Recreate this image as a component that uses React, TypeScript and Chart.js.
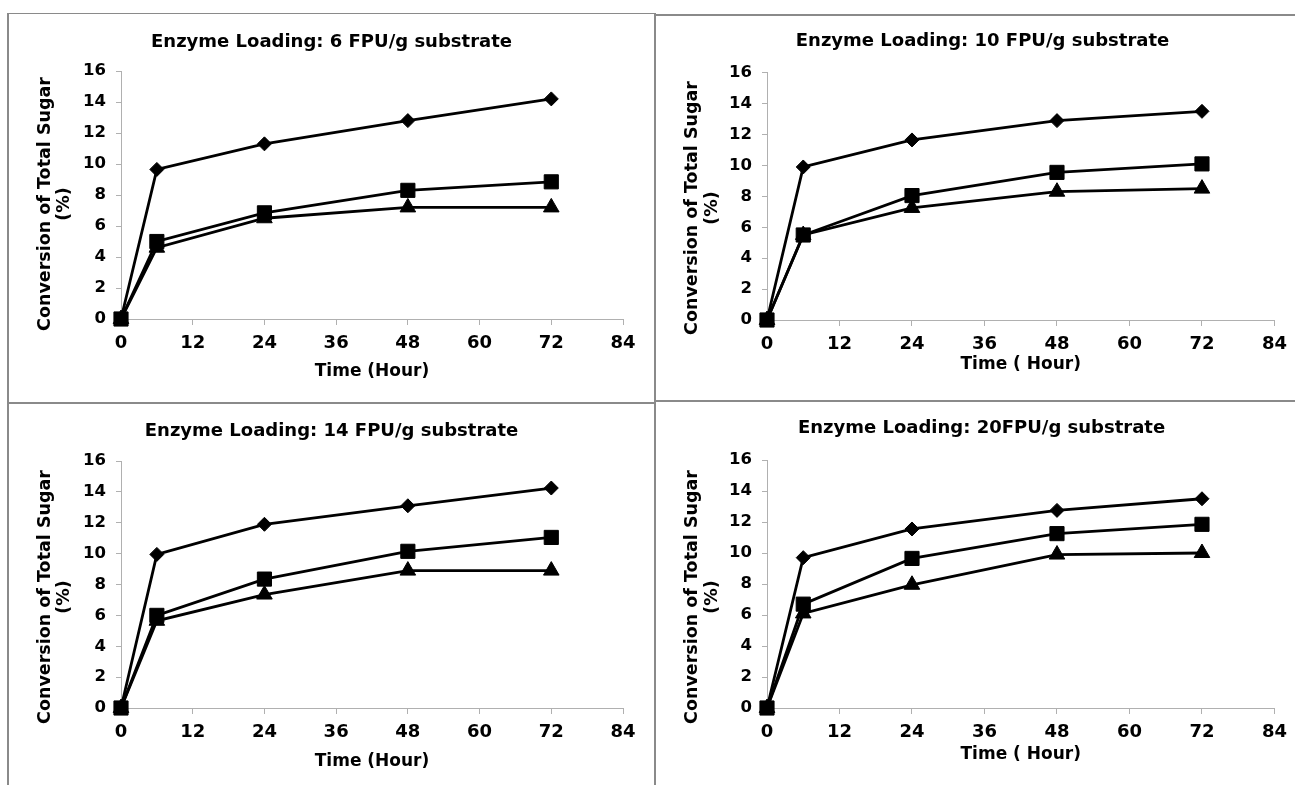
import React, { useEffect, useRef } from "react";
import { Chart, registerables } from "chart.js";

Chart.register(...registerables);

// ---------- data ----------
const hours = [0, 6, 24, 48, 72];
const xMin = 0;
const xMax = 84;
const xStep = 12;
const yMin = 0;
const yMax = 16;
const yStep = 2;

const titles = [
  "Enzyme Loading: 6 FPU/g substrate",
  "Enzyme Loading: 10 FPU/g substrate",
  "Enzyme Loading: 14 FPU/g substrate",
  "Enzyme Loading: 20FPU/g substrate",
];
const xTitles = ["Time (Hour)", "Time ( Hour)", "Time (Hour)", "Time ( Hour)"];
const yTitleLines = ["Conversion of Total Sugar", "(%)"];

const diamond6 = [0, 9.65, 11.3, 12.8, 14.2];
const square6 = [0, 5.0, 6.85, 8.3, 8.85];
const triangle6 = [0, 4.6, 6.5, 7.2, 7.2];

const diamond10 = [0, 9.9, 11.65, 12.9, 13.5];
const square10 = [0, 5.5, 8.05, 9.55, 10.1];
const triangle10 = [0, 5.5, 7.25, 8.3, 8.5];

const diamond14 = [0, 9.95, 11.9, 13.1, 14.25];
const square14 = [0, 6.0, 8.35, 10.15, 11.05];
const triangle14 = [0, 5.65, 7.35, 8.9, 8.9];

const diamond20 = [0, 9.7, 11.55, 12.75, 13.5];
const square20 = [0, 6.7, 9.65, 11.25, 11.85];
const triangle20 = [0, 6.1, 7.95, 9.9, 10.0];

const seriesByPanel = [
  [diamond6, square6, triangle6],
  [diamond10, square10, triangle10],
  [diamond14, square14, triangle14],
  [diamond20, square20, triangle20],
];

// ---------- layout (page coordinates) ----------
type Layout = {
  canvas: [number, number, number, number]; // left, top, width, height
  area: [number, number, number, number]; // left, right, top, bottom
  title: [number, number]; // center x, center y
  xTitleY: number;
  yTitle: [number, number, number]; // line1 x, line2 x, center y
};

const layouts: Layout[] = [
  { canvas: [8, 14, 646, 388], area: [121, 623, 71, 319], title: [331.5, 41], xTitleY: 370, yTitle: [45, 64.5, 204] },
  { canvas: [657, 16, 638, 384], area: [767, 1278, 72.7, 320], title: [982.5, 40], xTitleY: 363, yTitle: [692, 712, 208] },
  { canvas: [8, 404, 646, 381], area: [121, 623, 461, 708], title: [331.5, 430], xTitleY: 760, yTitle: [45, 64.5, 597] },
  { canvas: [657, 402, 638, 383], area: [767, 1278, 460, 708], title: [981.5, 427.5], xTitleY: 753, yTitle: [692, 712, 597] },
];

const FONT = '"DejaVu Sans", Verdana, sans-serif';
const AXIS_GREY = "#b0b0b0";
const BORDER_GREY = "#8a8a8a";

const styles = [
  { pointStyle: "rectRot", pointRadius: 7 },
  { pointStyle: "rect", pointRadius: 10 },
  { pointStyle: "triangle", pointRadius: 9 },
];

const yTitlePlugin = {
  id: "yTitleLines",
  afterDraw(chart: any, _args: any, opts: any) {
    const ctx = chart.ctx;
    ctx.save();
    ctx.fillStyle = "#000";
    ctx.font = `bold 17.5px ${FONT}`;
    ctx.textAlign = "center";
    ctx.textBaseline = "middle";
    opts.lines.forEach((line: string, i: number) => {
      ctx.save();
      ctx.translate(opts.xs[i], opts.y);
      ctx.rotate(-Math.PI / 2);
      ctx.fillText(line, 0, 0);
      ctx.restore();
    });
    ctx.restore();
  },
};

function Panel({ index }: { index: number }) {
  const ref = useRef<HTMLCanvasElement | null>(null);
  const lay = layouts[index];

  useEffect(() => {
    const canvas = ref.current;
    if (!canvas) return;
    const [cx, cy, cw, ch] = lay.canvas;
    const [L, R, T, B] = lay.area;
    const [tx, ty] = lay.title;

    const pr = cx + cw - R;
    const pl = 2 * tx - R - cx;
    const yW = L - cx - pl;
    const titleSize = 18;
    const tlh = titleSize * 1.2;
    const tp = ty + 1.2 - cy - tlh / 2;
    const tb = T - cy - tp - tlh;
    const xH = cy + ch - B;
    const xTitleSize = 17;
    const xlh = xTitleSize * 1.2;
    const xtpb = cy + ch - (lay.xTitleY + 1.2) - xlh / 2;

    const datasets = seriesByPanel[index].map((vals, si) => ({
      label: ["A", "B", "C"][si],
      data: hours.map((h, i) => ({ x: h, y: vals[i] })),
      borderColor: "#000",
      backgroundColor: "#000",
      pointBackgroundColor: "#000",
      pointBorderColor: "#000",
      borderWidth: 2.8,
      pointBorderWidth: 1,
      pointStyle: styles[si].pointStyle,
      pointRadius: styles[si].pointRadius,
      tension: 0,
      clip: false,
    }));

    const chart = new Chart(canvas, {
      type: "line",
      data: { datasets },
      plugins: [yTitlePlugin],
      options: {
        animation: false,
        responsive: false,
        events: [],
        layout: { padding: { left: pl, right: pr, top: 0, bottom: 0 } },
        plugins: {
          legend: { display: false },
          tooltip: { enabled: false },
          title: {
            display: true,
            text: titles[index],
            color: "#000",
            font: { family: FONT, size: titleSize, weight: "bold", lineHeight: 1.2 },
            padding: { top: tp, bottom: tb },
          },
          yTitleLines: {
            lines: yTitleLines,
            xs: [lay.yTitle[0] - cx, lay.yTitle[1] - cx],
            y: lay.yTitle[2] - cy,
          },
        } as any,
        scales: {
          x: {
            type: "linear",
            min: xMin,
            max: xMax,
            offset: false,
            grid: { drawOnChartArea: false, drawTicks: true, tickLength: 6, color: AXIS_GREY, lineWidth: 1 },
            border: { display: true, color: AXIS_GREY, width: 1 },
            ticks: {
              stepSize: xStep,
              color: "#000",
              padding: 8,
              maxRotation: 0,
              font: { family: FONT, size: 18, weight: "bold" },
            },
            title: {
              display: true,
              text: xTitles[index],
              color: "#000",
              font: { family: FONT, size: xTitleSize, weight: "bold", lineHeight: 1.2 },
              padding: { top: 0, bottom: xtpb },
            },
            afterFit: (scale: any) => {
              scale.height = xH;
            },
          },
          y: {
            type: "linear",
            min: yMin,
            max: yMax,
            grid: { drawOnChartArea: false, drawTicks: true, tickLength: 5, color: AXIS_GREY, lineWidth: 1 },
            border: { display: true, color: AXIS_GREY, width: 1 },
            ticks: {
              stepSize: yStep,
              color: "#000",
              padding: 10,
              font: { family: FONT, size: 16.5, weight: "bold" },
            },
            afterFit: (scale: any) => {
              scale.width = yW;
            },
          },
        },
      } as any,
    });
    return () => chart.destroy();
  }, [index]);

  const [cx, cy, cw, ch] = lay.canvas;
  return (
    <canvas
      ref={ref}
      width={cw}
      height={ch}
      style={{ position: "absolute", left: cx, top: cy, width: cw, height: ch }}
    />
  );
}

const borderLines: [number, number, number, number][] = [
  [7, 13, 648, 1], // top-left top
  [655, 14, 640, 2], // top-right top
  [654, 13, 2, 772], // center vertical
  [7, 402, 648, 2], // left middle horizontal
  [655, 400, 640, 2], // right middle horizontal
  [7, 13, 1.5, 772], // outer left
];

export default function App() {
  return (
    <div
      style={{
        position: "fixed",
        left: 0,
        top: 0,
        width: 1295,
        height: 785,
        background: "#fff",
        overflow: "hidden",
      }}
    >
      {borderLines.map(([l, t, w, h], i) => (
        <div key={i} style={{ position: "absolute", left: l, top: t, width: w, height: h, background: BORDER_GREY }} />
      ))}
      {[0, 1, 2, 3].map((i) => (
        <Panel key={i} index={i} />
      ))}
    </div>
  );
}
